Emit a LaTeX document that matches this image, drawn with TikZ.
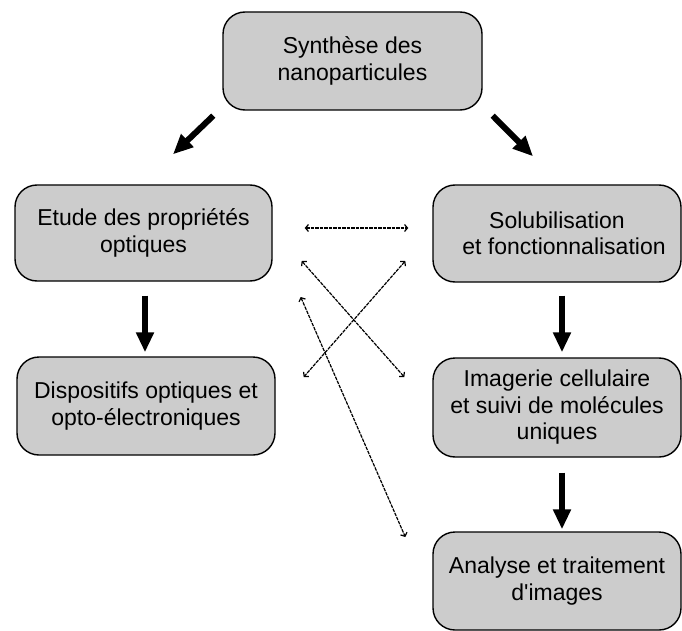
\documentclass[tikz,border=0pt]{standalone}
\usepackage{fontspec}
\setmainfont{Liberation Sans}
\usetikzlibrary{arrows.meta}
\definecolor{boxgray}{RGB}{204,204,204}
\begin{document}
\begin{tikzpicture}[x=1pt,y=-1pt,
  box/.style={draw=black, line width=1.4pt, fill=boxgray, rounded corners=22pt,
    align=center, inner sep=0pt, font=\fontsize{23}{26.5}\selectfont},
  bigarrow/.style={line width=6pt, -{Triangle[width=17pt,length=20pt]}},
  dasharrow/.style={line width=1.2pt, dash pattern=on 3.5pt off 1pt,
    {Straight Barb[length=3pt,width=7pt]}-{Straight Barb[length=3pt,width=7pt]}}]
\useasboundingbox (0,0) rectangle (682,631);
\node[box, minimum width=259pt, minimum height=98pt] (top) at (352.5,61) {Synthèse des\\nanoparticules};
\node[box, minimum width=257pt, minimum height=96pt] (e1) at (143.5,233) {Etude des propriétés\\optiques};
\node[box, minimum width=258pt, minimum height=98pt] (d1) at (146,406) {Dispositifs optiques et\\opto-électroniques};
\node[box, minimum width=248pt, minimum height=97pt] (s1) at (557,233.5) {Solubilisation\\\hspace*{14pt}et fonctionnalisation};
\node[box, minimum width=248pt, minimum height=99pt] (i1) at (557,407.5) {Imagerie cellulaire\\et suivi de molécules\\uniques};
\node[box, minimum width=248pt, minimum height=98pt] (a1) at (557,581) {Analyse et traitement\\d\textquotesingle images};
% thick arrows
\draw[bigarrow] ([shift={(-9,5)}]top.south west) -- ([shift={(29.5,-30)}]e1.north);
\draw[bigarrow] ([shift={(10,5)}]top.south east) -- ([shift={(-24,-28)}]s1.north);
\draw[bigarrow] ([shift={(1.5,14)}]e1.south) -- ([shift={(-1,-4)}]d1.north);
\draw[bigarrow] ([shift={(5,13)}]s1.south) -- ([shift={(5,-5)}]i1.north);
\draw[bigarrow] ([shift={(5,15)}]i1.south) -- ([shift={(5,-2)}]a1.north);
% dashed connectors
\draw[dasharrow] ([shift={(32,-5)}]e1.east) -- ([shift={(-24,-5.5)}]s1.west);
\draw[dasharrow] ([shift={(29,28)}]e1.east) -- ([shift={(-28,-30.5)}]i1.west);
\draw[dasharrow] ([shift={(-27,27.5)}]s1.west) -- ([shift={(28,-29)}]d1.east);
\draw[dasharrow] ([shift={(28,64)}]e1.east) -- ([shift={(-27,-44)}]a1.west);
\end{tikzpicture}
\end{document}
